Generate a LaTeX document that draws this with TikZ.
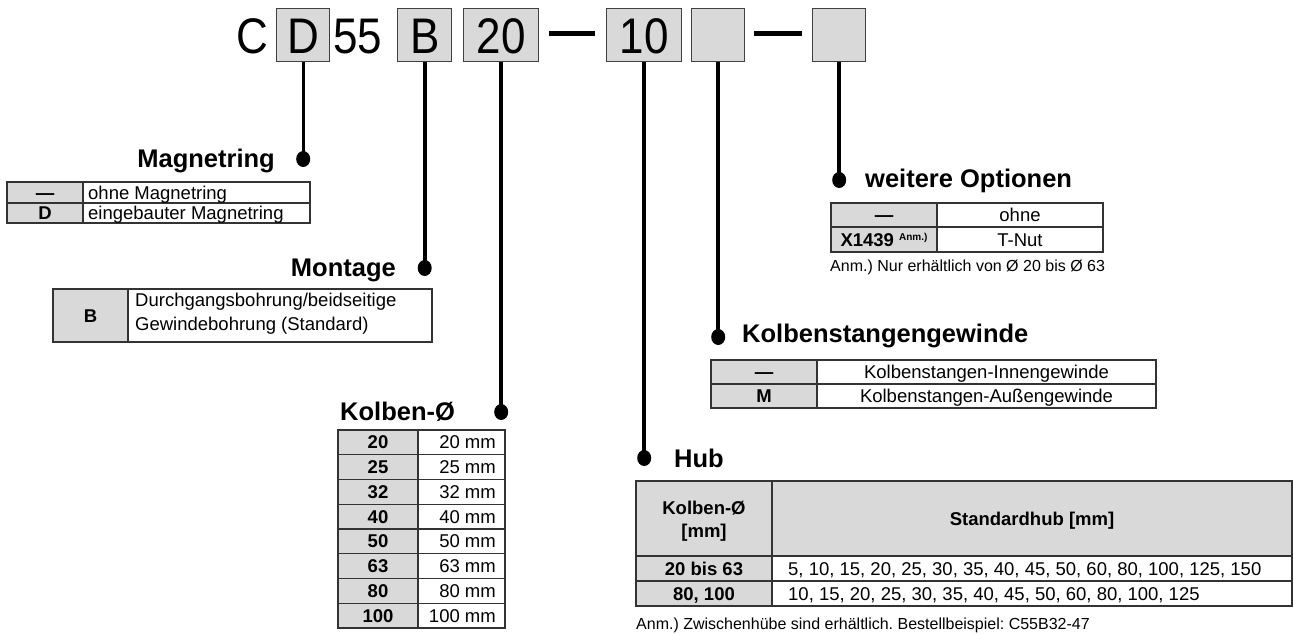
\documentclass[tikz,border=0pt]{standalone}
\usepackage{fontspec}
\setmainfont{Liberation Sans}
\usetikzlibrary{shapes.geometric}
\definecolor{boxgray}{HTML}{D9D9D9}
\definecolor{linegray}{HTML}{404040}
\frenchspacing
\begin{document}
\begin{tikzpicture}[x=1pt,y=-1pt,
  codebox/.style={draw=linegray, line width=1.4pt, fill=boxgray, inner sep=0pt, anchor=north west, minimum height=53.5pt},
  codetext/.style={font=\fontsize{50}{50}\selectfont, inner sep=0pt, anchor=base},
  dot/.style={ellipse, fill=black, inner sep=0pt, minimum width=14pt, minimum height=16pt},
  conn/.style={line width=3.8pt},
  heading/.style={font=\fontsize{25.5}{28}\selectfont\bfseries, inner sep=0pt},
  tbl/.style={draw=black!80, line width=1.2pt},
  gcell/.style={tbl, fill=boxgray},
  wcell/.style={tbl, fill=white},
  ttext/.style={font=\fontsize{18.5}{22}\selectfont, inner sep=0pt, anchor=base},
  btext/.style={font=\fontsize{18.5}{22}\selectfont\bfseries, inner sep=0pt, anchor=base},
  note/.style={font=\fontsize{16}{18}\selectfont, inner sep=0pt, anchor=base west},
]
\useasboundingbox (0,0) rectangle (1293,633);

% ---------- order code ----------
\node[codebox, minimum width=53pt] (bD) at (276,7.5) {};
\node[codebox, minimum width=54pt] (bB) at (397,7.5) {};
\node[codebox, minimum width=75pt] (b20) at (463,7.5) {};
\node[codebox, minimum width=75pt] (b10) at (606,7.5) {};
\node[codebox, minimum width=53pt] (bE1) at (691,7.5) {};
\node[codebox, minimum width=53pt] (bE2) at (812,7.5) {};

\node[codetext] (tC) at (252,53.3) {\scalebox{0.88}[1]{C}};
\node[codetext] (tD) at (bD.center |- 0,53.3) {\scalebox{0.88}[1]{D}};
\node[codetext] (t55) at (358,53.3) {\scalebox{0.88}[1]{55}};
\node[codetext] (tB) at (bB.center |- 0,53.3) {\scalebox{0.88}[1]{B}};
\node[codetext] (t20) at (b20.center |- 0,53.3) {\scalebox{0.88}[1]{20}};
\node[codetext] (t10) at (b10.center |- 0,53.3) {\scalebox{0.88}[1]{10}};
\draw[line width=5pt] (549,33.5) -- (595,33.5);
\draw[line width=5pt] (754,33.5) -- (802,33.5);

% ---------- dots ----------
\node[dot] (dMag) at (bD.south |- 0,159) {};
\node[dot] (dMon) at (bB.south |- 0,268) {};
\node[dot] (dKol) at (b20.south |- 0,412) {};
\node[dot] (dHub) at (b10.south |- 0,458) {};
\node[dot] (dKsg) at (bE1.south |- 0,337) {};
\node[dot] (dWei) at (bE2.south |- 0,180) {};

\draw[conn, line width=2.8pt] (bD.south) -- (dMag.center);
\draw[conn] (bB.south) -- (dMon.center);
\draw[conn] (b20.south) -- (dKol.center);
\draw[conn] (b10.south) -- (dHub.center);
\draw[conn] (bE1.south) -- (dKsg.center);
\draw[conn] (bE2.south) -- (dWei.center);

% ---------- headings ----------
\node[heading, anchor=base east] (hMag) at (275,167) {Magnetring};
\node[heading, anchor=base east] (hMon) at (396,276) {Montage};
\node[heading, anchor=base west] (hKol) at (340,420) {Kolben-Ø};
\node[heading, anchor=base west] (hHub) at (674,467) {Hub};
\node[heading, anchor=base west] (hKsg) at (742,342) {Kolbenstangengewinde};
\node[heading, anchor=base west] (hWei) at (865,187) {weitere Optionen};

% ---------- Magnetring table ----------
\draw[gcell] (7,182) rectangle (83,203);
\draw[gcell] (7,203) rectangle (83,223);
\draw[wcell] (83,182) rectangle (310,203);
\draw[wcell] (83,203) rectangle (310,223);
\node[btext] (mg1) at (45,199) {—};
\node[ttext, anchor=base west] (mg2) at (88,199) {ohne Magnetring};
\node[btext] (mg3) at (45,219.5) {D};
\node[ttext, anchor=base west] (mg4) at (88,219.5) {eingebauter Magnetring};

% ---------- Montage table ----------
\draw[gcell] (53,289) rectangle (128,342);
\draw[wcell] (128,289) rectangle (432,342);
\node[btext] (mo1) at (90.5,322) {B};
\node[ttext, anchor=base west] (mo2) at (135,306.5) {Durchgangsbohrung/beidseitige};
\node[ttext, anchor=base west] (mo3) at (135,330) {Gewindebohrung (Standard)};

% ---------- Kolben table ----------
\foreach \a [count=\i from 0] in {20,25,32,40,50,63,80,100}{
  \draw[gcell] (338,430+24.75*\i) rectangle (418,454.75+24.75*\i);
  \draw[wcell] (418,430+24.75*\i) rectangle (505,454.75+24.75*\i);
  \node[btext] (kl\i) at (378,448.9+24.75*\i) {\a};
  \node[ttext, anchor=base east] (kr\i) at (496,448.9+24.75*\i) {\a\ mm};
}

% ---------- Hub table ----------
\draw[gcell] (636,481) rectangle (772,556);
\draw[gcell] (772,481) rectangle (1292,556);
\draw[gcell] (636,556) rectangle (772,581);
\draw[wcell] (772,556) rectangle (1292,581);
\draw[gcell] (636,581) rectangle (772,606);
\draw[wcell] (772,581) rectangle (1292,606);
\node[btext] (hu1) at (704,514) {Kolben-Ø};
\node[btext] (hu2) at (704,537) {[mm]};
\node[btext] (hu3) at (1032,525) {Standardhub [mm]};
\node[btext] (hu4) at (704,575) {20 bis 63};
\node[ttext, anchor=base west] (hu5) at (788,575) {5, 10, 15, 20, 25, 30, 35, 40, 45, 50, 60, 80, 100, 125, 150};
\node[btext] (hu6) at (704,600) {80, 100};
\node[ttext, anchor=base west] (hu7) at (788,600) {10, 15, 20, 25, 30, 35, 40, 45, 50, 60, 80, 100, 125};
\node[note] (nHub) at (636,629) {Anm.) Zwischenhübe sind erhältlich. Bestellbeispiel: C55B32-47};

% ---------- Kolbenstangengewinde table ----------
\draw[gcell] (711,360) rectangle (817,384);
\draw[gcell] (711,384) rectangle (817,408);
\draw[wcell] (817,360) rectangle (1156,384);
\draw[wcell] (817,384) rectangle (1156,408);
\node[btext] (ks1) at (764,378.5) {—};
\node[ttext] (ks2) at (986.5,378.5) {Kolbenstangen-Innengewinde};
\node[btext] (ks3) at (764,402.5) {M};
\node[ttext] (ks4) at (986.5,402.5) {Kolbenstangen-Außengewinde};

% ---------- weitere Optionen table ----------
\draw[gcell] (831,203) rectangle (937,227);
\draw[gcell] (831,227) rectangle (937,252);
\draw[wcell] (937,203) rectangle (1103,227);
\draw[wcell] (937,227) rectangle (1103,252);
\node[btext] (wo1) at (884,221.5) {—};
\node[ttext] (wo2) at (1020,221.5) {ohne};
\node[btext] (wo3) at (884,246) {X1439 {\fontsize{10}{10}\selectfont\raisebox{6pt}{Anm.)}}};
\node[ttext] (wo4) at (1020,246) {T-Nut};
\node[note] (nWei) at (830,271) {Anm.) Nur erhältlich von Ø 20 bis Ø 63};

\end{tikzpicture}
\end{document}
